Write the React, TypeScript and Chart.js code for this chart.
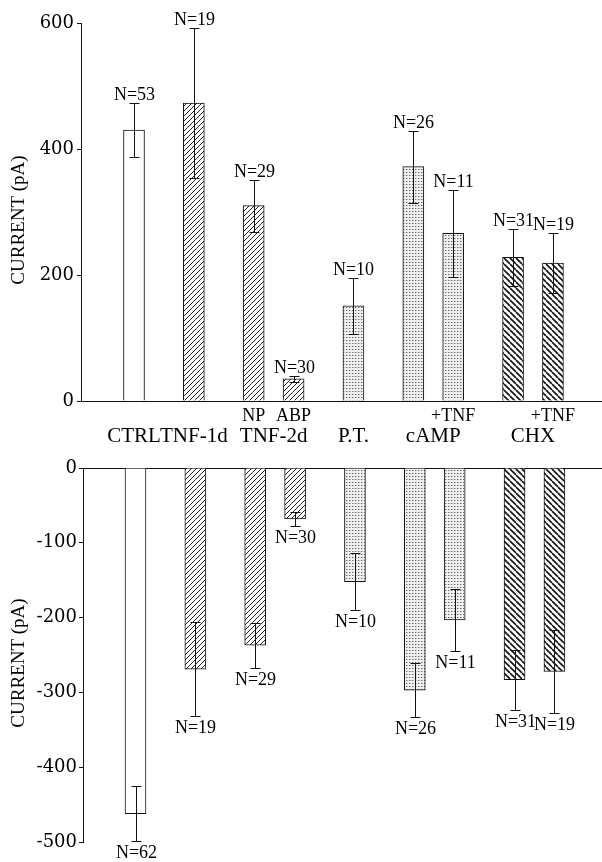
import React, { useEffect, useRef } from 'react';
import { Chart, registerables } from 'chart.js';

Chart.register(...registerables);

// ---------- data ----------
const groupNames = ['CTRL', 'TNF-1d', 'TNF-2d', 'P.T.', 'cAMP', 'CHX'];
const barGroup = [0, 1, 2, 2, 3, 4, 4, 5, 5];
const barSubLabels = ['', '', 'NP', 'ABP', '', '', '+TNF', '', '+TNF'];
const barSlots = [0, 3, 6, 8, 11, 14, 16, 19, 21];

const outwardMean = [430, 473, 310, 35, 151, 372, 266, 228, 219];
const outwardErr = [43, 119, 41, 5, 45, 57, 69, 45, 47];
const outwardN = [53, 19, 29, 30, 10, 26, 11, 31, 19];

const inwardMean = [-462, -269, -237, -68, -152, -297, -203, -283, -272];
const inwardErr = [37, 63, 30, 9, 38, 36, 41, 40, 56];
const inwardN = [62, 19, 29, 30, 10, 26, 11, 31, 19];

const topTickValues = [0, 200, 400, 600];
const bottomTickValues = [0, -100, -200, -300, -400, -500];

const yTitle = 'CURRENT (pA)';

// ---------- styles ----------
const groupFill = ['open', 'fwd', 'fwd', 'dots', 'dots', 'back'];
const W = 602;
const TOP_H = 445;
const BOT_H = 417;

function makeFill(kind: string): any {
  if (kind === 'open') return '#ffffff';
  const c = document.createElement('canvas');
  const ctx = c.getContext('2d') as CanvasRenderingContext2D;
  if (kind === 'fwd') {
    const s = 5;
    c.width = s; c.height = s;
    ctx.fillStyle = '#fff'; ctx.fillRect(0, 0, s, s);
    ctx.strokeStyle = '#222'; ctx.lineWidth = 1;
    ctx.beginPath();
    for (const o of [-s, 0, s]) { ctx.moveTo(o, s); ctx.lineTo(o + s, 0); }
    ctx.stroke();
  } else if (kind === 'back') {
    const s = 6;
    c.width = s; c.height = s;
    ctx.fillStyle = '#fff'; ctx.fillRect(0, 0, s, s);
    ctx.strokeStyle = '#111'; ctx.lineWidth = 1.6;
    ctx.beginPath();
    for (const o of [-s, 0, s]) { ctx.moveTo(o, 0); ctx.lineTo(o + s, s); }
    ctx.stroke();
  } else {
    const s = 3;
    c.width = s; c.height = s;
    ctx.fillStyle = '#efefef'; ctx.fillRect(0, 0, s, s);
    ctx.fillStyle = '#666666'; ctx.fillRect(1, 1, 1, 1);
    ctx.fillStyle = '#bdbdbd'; ctx.fillRect(2, 1, 1, 1);
  }
  return ctx.createPattern(c, 'repeat');
}

function errorPlugin(mean: number[], err: number[], ns: number[], up: boolean) {
  return {
    id: 'errorBars',
    afterDatasetsDraw(chart: any) {
      const { ctx, scales } = chart;
      const x = scales.x, y = scales.y;
      ctx.save();
      ctx.strokeStyle = '#111';
      ctx.lineWidth = 1;
      ctx.fillStyle = '#000';
      ctx.font = '18px "Liberation Serif"';
      ctx.textAlign = 'center';
      ctx.textBaseline = 'alphabetic';
      mean.forEach((m, i) => {
        const px = Math.round(x.getPixelForValue(barSlots[i])) + 0.5;
        const a = Math.round(y.getPixelForValue(m + err[i])) + 0.5;
        const b = Math.round(y.getPixelForValue(m - err[i])) + 0.5;
        ctx.beginPath();
        ctx.moveTo(px, a); ctx.lineTo(px, b);
        ctx.moveTo(px - 5, a); ctx.lineTo(px + 5, a);
        ctx.moveTo(px - 5, b); ctx.lineTo(px + 5, b);
        ctx.stroke();
        const label = 'N=' + ns[i];
        if (up) ctx.fillText(label, px, Math.min(a, b) - 4);
        else ctx.fillText(label, px, Math.max(a, b) + 16);
      });
      ctx.restore();
    },
  };
}

const titlePlugin = {
  id: 'yTitle',
  afterDraw(chart: any) {
    const { ctx, chartArea } = chart;
    ctx.save();
    ctx.translate(19, (chartArea.top + chartArea.bottom) / 2 + 8);
    ctx.rotate(-Math.PI / 2);
    ctx.font = '19px "Liberation Serif"';
    ctx.fillStyle = '#000';
    ctx.textAlign = 'center';
    ctx.textBaseline = 'middle';
    ctx.fillText(yTitle, 0, 0);
    ctx.restore();
  },
};

const categoryPlugin = {
  id: 'categoryLabels',
  afterDraw(chart: any) {
    const { ctx, scales } = chart;
    const x = scales.x;
    ctx.save();
    ctx.fillStyle = '#000';
    ctx.textAlign = 'center';
    ctx.textBaseline = 'middle';
    ctx.font = '18px "Liberation Serif"';
    barSubLabels.forEach((t, i) => {
      if (t) ctx.fillText(t, x.getPixelForValue(barSlots[i]), 416);
    });
    ctx.font = '21px "Liberation Serif"';
    groupNames.forEach((g, gi) => {
      const sl = barSlots.filter((_, i) => barGroup[i] === gi);
      const c = sl.reduce((s, v) => s + v, 0) / sl.length;
      ctx.fillText(g, x.getPixelForValue(c), 436);
    });
    ctx.restore();
  },
};

function makeConfig(opts: {
  mean: number[]; err: number[]; ns: number[]; up: boolean;
  ticks: number[]; axisLeft: number; xMin: number; xMax: number;
  xPos: 'top' | 'bottom'; xHeight: number; padTop: number; padBottom: number;
  extra: any[]; tickPad: number;
}): any {
  const fills = opts.mean.map((_, i) => makeFill(groupFill[barGroup[i]]));
  const yMin = Math.min(...opts.ticks), yMax = Math.max(...opts.ticks);
  return {
    type: 'bar',
    data: {
      datasets: [
        {
          data: opts.mean.map((v, i) => ({ x: barSlots[i], y: v })),
          backgroundColor: fills,
          borderColor: '#111',
          borderWidth: 1,
          borderSkipped: 'start',
          barThickness: 21,
        },
      ],
    },
    options: {
      responsive: false,
      animation: false,
      events: [],
      layout: { padding: { top: opts.padTop, bottom: opts.padBottom, left: 0, right: 0 } },
      plugins: { legend: { display: false }, tooltip: { enabled: false } },
      scales: {
        x: {
          type: 'linear',
          position: opts.xPos,
          offset: false,
          min: opts.xMin,
          max: opts.xMax,
          ticks: { display: false },
          grid: { display: false, offset: false },
          border: { display: true, color: '#111', width: 1 },
          afterFit: (s: any) => { s.height = opts.xHeight; },
        },
        y: {
          min: yMin,
          max: yMax,
          afterBuildTicks: (s: any) => { s.ticks = opts.ticks.map((v) => ({ value: v })); },
          ticks: {
            color: '#000',
            padding: opts.tickPad,
            font: { family: '"DejaVu Serif"', size: 18 },
            callback: (v: any) => String(v),
          },
          grid: { display: true, drawOnChartArea: false, drawTicks: true, tickLength: 4, color: '#111' },
          border: { display: true, color: '#111', width: 1 },
          afterFit: (s: any) => { s.width = opts.axisLeft; },
        },
      },
    },
    plugins: [errorPlugin(opts.mean, opts.err, opts.ns, opts.up), titlePlugin, ...opts.extra],
  };
}

export default function App() {
  const topRef = useRef<HTMLCanvasElement>(null);
  const botRef = useRef<HTMLCanvasElement>(null);

  useEffect(() => {
    const spacing = 19.95;
    const topLeft = 81, topZero = 134;
    const botLeft = 83, botZero = 135.5;
    const tMin = -(topZero - topLeft) / spacing;
    const tMax = tMin + (W - topLeft) / spacing;
    const bMin = -(botZero - botLeft) / spacing;
    const bMax = bMin + (W - botLeft) / spacing;

    const top = new Chart(topRef.current as HTMLCanvasElement, makeConfig({
      mean: outwardMean, err: outwardErr, ns: outwardN, up: true,
      ticks: topTickValues, axisLeft: topLeft, xMin: tMin, xMax: tMax,
      xPos: 'bottom', xHeight: TOP_H - 401, padTop: 23, padBottom: 0,
      extra: [categoryPlugin], tickPad: 3,
    }));
    const bot = new Chart(botRef.current as HTMLCanvasElement, makeConfig({
      mean: inwardMean, err: inwardErr, ns: inwardN, up: false,
      ticks: bottomTickValues, axisLeft: botLeft, xMin: bMin, xMax: bMax,
      xPos: 'top', xHeight: 0, padTop: 23, padBottom: BOT_H - 397,
      extra: [], tickPad: 2,
    }));
    return () => { top.destroy(); bot.destroy(); };
  }, []);

  return (
    <div style={{ position: 'absolute', left: 0, top: 0, width: W, height: TOP_H + BOT_H, background: '#fff' }}>
      <canvas ref={topRef} width={W} height={TOP_H}
        style={{ position: 'absolute', left: 0, top: 0, width: W, height: TOP_H, display: 'block' }} />
      <canvas ref={botRef} width={W} height={BOT_H}
        style={{ position: 'absolute', left: 0, top: TOP_H, width: W, height: BOT_H, display: 'block' }} />
    </div>
  );
}
